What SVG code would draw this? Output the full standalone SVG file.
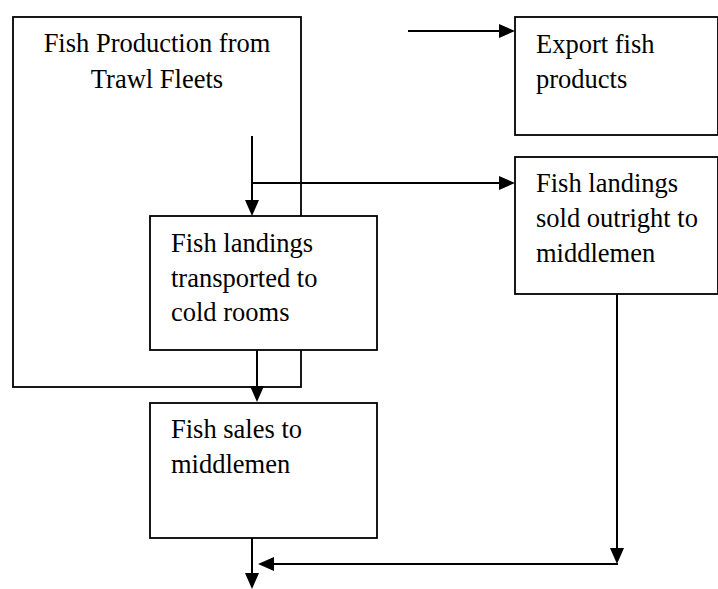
<svg xmlns="http://www.w3.org/2000/svg" width="718" height="589" viewBox="0 0 718 589">
<style>
.box{fill:none;stroke:#000;stroke-width:1.8}
.t{font-family:"Liberation Serif","Times New Roman",serif;font-size:26.5px;fill:#000}
.c{fill:none;stroke:#000;stroke-width:2}
.ah{fill:#000}
</style>
<rect width="718" height="589" fill="#fff"/>
<g id="production">
<rect class="box" x="13" y="17" width="288" height="370"/>
<text class="t" x="157" y="52" text-anchor="middle">Fish Production from</text>
<text class="t" x="157" y="88" text-anchor="middle">Trawl Fleets</text>
</g>
<g id="export">
<rect class="box" x="515" y="17" width="203" height="118"/>
<text class="t" x="536" y="53">Export fish</text>
<text class="t" x="536" y="88">products</text>
</g>
<g id="outright">
<rect class="box" x="515" y="157" width="203" height="137"/>
<text class="t" x="536" y="192">Fish landings</text>
<text class="t" x="536" y="227">sold outright to</text>
<text class="t" x="536" y="262">middlemen</text>
</g>
<g id="coldrooms">
<rect class="box" x="150" y="216" width="227" height="134" style="fill:#fff"/>
<text class="t" x="171" y="252">Fish landings</text>
<text class="t" x="171" y="287">transported to</text>
<text class="t" x="171" y="321">cold rooms</text>
</g>
<g id="sales">
<rect class="box" x="150" y="403" width="227" height="135"/>
<text class="t" x="171" y="438">Fish sales to</text>
<text class="t" x="171" y="473">middlemen</text>
</g>
<g id="connectors">
<path class="c" d="M408 31H500"/>
<polygon class="ah" points="515,31 499,24 499,38"/>
<path class="c" d="M252 136V202"/>
<polygon class="ah" points="252,216 245,200 259,200"/>
<path class="c" d="M252 183H500"/>
<polygon class="ah" points="515,183 499,176 499,190"/>
<path class="c" d="M257 350V388"/>
<polygon class="ah" points="257,402 250,386 264,386"/>
<path class="c" d="M617 294V550"/>
<polygon class="ah" points="617,564 610,548 624,548"/>
<path class="c" d="M618 564H272"/>
<polygon class="ah" points="258,564 274,557 274,571"/>
<path class="c" d="M252 538V575"/>
<polygon class="ah" points="252,589 245,573 259,573"/>
</g>
</svg>
